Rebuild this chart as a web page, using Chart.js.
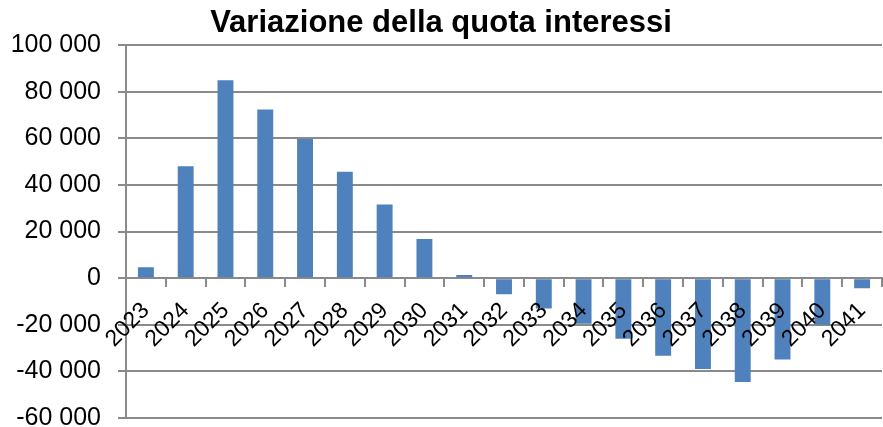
<!DOCTYPE html>
<html>
<head>
<meta charset="utf-8">
<script src="https://cdn.jsdelivr.net/npm/chart.js@4"></script>
<style>
html,body{margin:0;padding:0;background:#fff;}
#wrap{width:883px;height:427px;}
</style>
</head>
<body>
<div id="wrap"><canvas id="c" width="883" height="427"></canvas></div>
<script>
const chartTitle = 'Variazione della quota interessi';
const years = ['2023','2024','2025','2026','2027','2028','2029','2030','2031','2032','2033','2034','2035','2036','2037','2038','2039','2040','2041'];
const interestChange = [4700, 48000, 85000, 72400, 59700, 45700, 31600, 16800, 1400, -6900, -13000, -19500, -26000, -33300, -39000, -44500, -34900, -20000, -4300];
const yTicks = [-60000, -40000, -20000, 0, 20000, 40000, 60000, 80000, 100000];

function fmt(v){
  const s = Math.abs(v).toString().replace(/\B(?=(\d{3})+(?!\d))/g, ' ');
  return (v < 0 ? '-' : '') + s;
}

const gridColor = '#8a8a8a';
new Chart(document.getElementById('c'), {
  type: 'bar',
  data: {
    labels: years,
    datasets: [{
      data: interestChange,
      backgroundColor: '#4F81BD',
      borderWidth: 0,
      barPercentage: 0.4,
      categoryPercentage: 1.0
    }]
  },
  options: {
    responsive: false,
    animation: false,
    events: [],
    layout: { padding: { left: 0, right: 1, top: 0, bottom: 9 } },
    plugins: {
      legend: { display: false },
      tooltip: { enabled: false },
      title: {
        display: true,
        text: chartTitle,
        color: '#000',
        font: { family: 'Liberation Sans', size: 31, weight: 'bold' },
        padding: { top: 5, bottom: 3 }
      }
    },
    scales: {
      x: {
        position: { y: 0 },
        offset: true,
        afterFit: (s) => { s.paddingLeft = 0; s.paddingRight = 0; },
        grid: { offset: true, drawOnChartArea: false, drawTicks: true, tickLength: 8, color: gridColor, lineWidth: 2 },
        border: { display: true, color: gridColor, width: 2 },
        ticks: {
          z: 1,
          minRotation: 45, maxRotation: 45, autoSkip: false,
          color: '#000', padding: 11,
          font: { family: 'Liberation Sans', size: 23 }
        }
      },
      y: {
        min: -60000, max: 100000,
        afterBuildTicks: (s) => { s.ticks = yTicks.map(v => ({ value: v })); },
        afterFit: (s) => { s.width = 126; s.paddingTop = 0; s.paddingBottom = 0; },
        grid: { color: gridColor, lineWidth: 2, tickLength: 8 },
        border: { display: true, color: gridColor, width: 2 },
        ticks: {
          color: '#000', padding: 17,
          font: { family: 'Liberation Sans', size: 25 },
          callback: (v) => fmt(v)
        }
      }
    }
  }
});
</script>
</body>
</html>
